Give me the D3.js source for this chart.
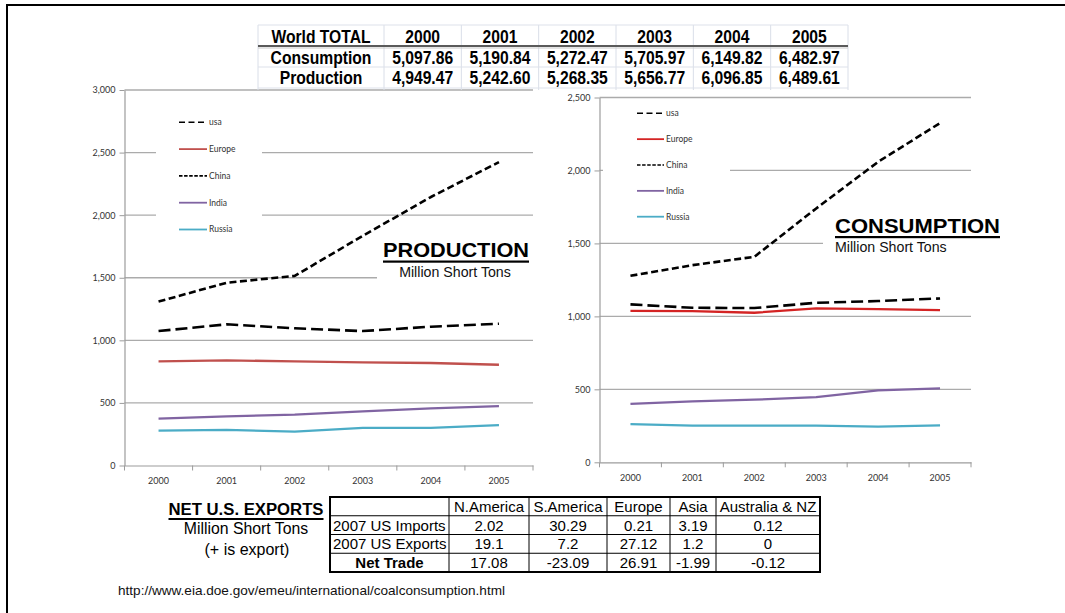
<!DOCTYPE html>
<html>
<head>
<meta charset="utf-8">
<script src="https://cdn.jsdelivr.net/npm/d3@7"></script>
<style>
  body { margin: 0; background: #fff; }
  svg { display: block; }
</style>
</head>
<body>
<svg id="chart" width="1065" height="613"></svg>
<script>
// ---- data ----
const years = ["2000", "2001", "2002", "2003", "2004", "2005"];
const seriesNames = ["usa", "Europe", "China", "India", "Russia"];

// coal production, million short tons
const productionUSA    = [1074, 1128, 1096, 1074, 1109, 1133];
const productionEurope = [832, 840, 832, 824, 819, 805];
const productionChina  = [1310, 1460, 1515, 1835, 2145, 2424];
const productionIndia  = [374, 393, 406, 433, 457, 475];
const productionRussia = [278, 284, 270, 300, 300, 323];

// coal consumption, million short tons
const consumptionUSA    = [1082, 1059, 1057, 1093, 1105, 1123];
const consumptionEurope = [1038, 1036, 1025, 1055, 1050, 1043];
const consumptionChina  = [1278, 1351, 1408, 1740, 2059, 2325];
const consumptionIndia  = [401, 418, 429, 447, 493, 507];
const consumptionRussia = [262, 251, 251, 251, 244, 253];

const productionTicks  = [0, 500, 1000, 1500, 2000, 2500, 3000];
const consumptionTicks = [0, 500, 1000, 1500, 2000, 2500];

// world totals table
const worldHeader = "World TOTAL";
const worldRowLabels = ["Consumption", "Production"];
const worldConsumption = [5097.86, 5190.84, 5272.47, 5705.97, 6149.82, 6482.97];
const worldProduction  = [4949.47, 5242.60, 5268.35, 5656.77, 6096.85, 6489.61];

// US trade table
const tradeRegions  = ["N.America", "S.America", "Europe", "Asia", "Australia & NZ"];
const tradeRowLabels = ["2007 US Imports", "2007 US Exports", "Net Trade"];
const usImports2007 = [2.02, 30.29, 0.21, 3.19, 0.12];
const usExports2007 = [19.1, 7.2, 27.12, 1.2, 0];
const usNetTrade    = [17.08, -23.09, 26.91, -1.99, -0.12];

const sourceUrl = "http://www.eia.doe.gov/emeu/international/coalconsumption.html";

// ---- drawing ----
const svg = d3.select("#chart");
const AXIS_FONT = "Lato, 'Open Sans', 'DejaVu Sans', sans-serif";
const ARIAL = "'Liberation Sans', Arial, sans-serif";

svg.append("rect").attr("width", 1065).attr("height", 613).attr("fill", "#fff");

function lineChart(cfg) {
  const g = svg.append("g");
  const x = d3.scaleBand().domain(years).range([cfg.left, cfg.right]);
  const y = d3.scaleLinear().domain([0, cfg.max]).range([cfg.bottom, cfg.top]);

  // horizontal gridlines
  g.append("g").selectAll("line")
    .data(cfg.ticks.filter(t => t > 0))
    .join("line")
    .attr("x1", cfg.left).attr("x2", cfg.right)
    .attr("y1", d => y(d)).attr("y2", d => y(d))
    .attr("stroke", "#ababab").attr("stroke-width", 1.3);

  // white panels behind legend and title
  cfg.panels.forEach(p => {
    g.append("rect").attr("x", p[0]).attr("y", p[1])
      .attr("width", p[2]).attr("height", p[3]).attr("fill", "#fff");
  });

  // y axis
  const yAxis = g.append("g")
    .attr("transform", `translate(${cfg.left},0)`)
    .call(d3.axisLeft(y).tickValues(cfg.ticks).tickSize(5).tickSizeOuter(0)
      .tickPadding(4).tickFormat(d3.format(",")));
  yAxis.select(".domain").attr("stroke", "#9c9c9c").attr("stroke-width", 1.2);
  yAxis.selectAll(".tick line").attr("stroke", "#9c9c9c");
  yAxis.selectAll(".tick text").attr("font-family", AXIS_FONT)
    .attr("font-size", 9).attr("fill", "#333");

  // x axis, ticks sit on category boundaries
  const xAxis = g.append("g")
    .attr("transform", `translate(0,${cfg.bottom})`)
    .call(d3.axisBottom(x).tickSize(0).tickSizeOuter(0).tickPadding(12));
  xAxis.select(".domain").attr("stroke", "#9c9c9c").attr("stroke-width", 1.2);
  xAxis.selectAll(".tick text").attr("font-family", AXIS_FONT)
    .attr("font-size", 9).attr("fill", "#333");
  const bounds = years.map(d => x(d)).concat([x(years[years.length - 1]) + x.bandwidth()]);
  g.append("g").selectAll("line").data(bounds).join("line")
    .attr("x1", d => d).attr("x2", d => d)
    .attr("y1", cfg.bottom).attr("y2", cfg.bottom + 5)
    .attr("stroke", "#9c9c9c");

  // series
  const line = d3.line()
    .x((d, i) => x(years[i]) + x.bandwidth() / 2)
    .y(d => y(d));
  cfg.series.forEach(s => {
    g.append("path").datum(s.values)
      .attr("d", line)
      .attr("fill", "none")
      .attr("stroke", s.color)
      .attr("stroke-width", s.width)
      .attr("stroke-dasharray", s.dash || null)
      .attr("stroke-linejoin", "round");
  });

  // legend
  cfg.series.forEach((s, i) => {
    const ly = cfg.legend.y + i * cfg.legend.step;
    g.append("line")
      .attr("x1", cfg.legend.x).attr("x2", cfg.legend.x + cfg.legend.len)
      .attr("y1", ly).attr("y2", ly)
      .attr("stroke", s.legendColor || s.color)
      .attr("stroke-width", s.dash ? 1.6 : 1.8)
      .attr("stroke-dasharray", s.legendDash || null);
    g.append("text")
      .attr("x", cfg.legend.x + cfg.legend.len + 2).attr("y", ly)
      .attr("dy", "0.35em")
      .attr("font-family", AXIS_FONT).attr("font-size", 8.5).attr("fill", "#333")
      .text(s.name);
  });

  // title
  const t = cfg.title;
  g.append("text").attr("x", t.x).attr("y", t.y)
    .attr("font-family", ARIAL).attr("font-weight", "bold").attr("font-size", t.size)
    .attr("textLength", t.len).attr("lengthAdjust", "spacingAndGlyphs")
    .attr("fill", "#000").text(t.text);
  g.append("rect").attr("x", t.x).attr("y", t.y + 3.5)
    .attr("width", t.len).attr("height", 2.2).attr("fill", "#000");
  g.append("text").attr("x", t.subX).attr("y", t.y + 19.5)
    .attr("text-anchor", t.subAnchor)
    .attr("font-family", ARIAL).attr("font-size", 14.2).attr("fill", "#111")
    .text("Million Short Tons");
}

function makeSeries(values, europeColor) {
  return [
    { name: seriesNames[0], values: values[0], color: "#000", width: 2.6, dash: "12,5", legendDash: "6,3.5" },
    { name: seriesNames[1], values: values[1], color: europeColor, width: 2.3 },
    { name: seriesNames[2], values: values[2], color: "#000", width: 2.6, dash: "7,3.5", legendDash: "3.5,1.6" },
    { name: seriesNames[3], values: values[3], color: "#8064a2", width: 2.2 },
    { name: seriesNames[4], values: values[4], color: "#4bacc6", width: 2.2 }
  ];
}

lineChart({
  left: 124.5, right: 533, top: 90, bottom: 465.5, max: 3000,
  ticks: productionTicks,
  panels: [[156, 100, 106, 140], [377, 236, 160, 46]],
  series: makeSeries([productionUSA, productionEurope, productionChina, productionIndia, productionRussia], "#c0504d"),
  legend: { x: 179, y: 122.3, step: 26.8, len: 28 },
  title: { text: "PRODUCTION", x: 383, y: 257, size: 21, len: 146, subX: 455, subAnchor: "middle" }
});

lineChart({
  left: 599.5, right: 971, top: 97.5, bottom: 462.3, max: 2500,
  ticks: consumptionTicks,
  panels: [[603, 102, 127, 128], [823, 210, 182, 48]],
  series: makeSeries([consumptionUSA, consumptionEurope, consumptionChina, consumptionIndia, consumptionRussia], "#d42424"),
  legend: { x: 637, y: 113.3, step: 25.85, len: 27 },
  title: { text: "CONSUMPTION", x: 835, y: 232.5, size: 21, len: 165, subX: 835, subAnchor: "start" }
});

// ---- world totals table ----
(function () {
  const tg = svg.append("g");
  const colX = [258, 384];
  for (let i = 1; i <= years.length; i++) colX.push(384 + i * (848 - 384) / years.length);
  const rowY = [25, 46.5, 67, 88];
  tg.append("rect").attr("x", 258).attr("y", 25).attr("width", 590).attr("height", 64).attr("fill", "#fff");
  // faint grid
  tg.selectAll(".v").data(colX).join("line")
    .attr("x1", d => d).attr("x2", d => d).attr("y1", 25).attr("y2", 90)
    .attr("stroke", "#d9dee8").attr("stroke-width", 1);
  tg.selectAll(".h").data([25, 67, 88]).join("line")
    .attr("x1", 258).attr("x2", 848).attr("y1", d => d).attr("y2", d => d)
    .attr("stroke", "#dde1ea").attr("stroke-width", 1);
  tg.append("line").attr("x1", 258).attr("x2", 848).attr("y1", 46).attr("y2", 46)
    .attr("stroke", "#5a5a5a").attr("stroke-width", 2);
  tg.append("line").attr("x1", 258).attr("x2", 848).attr("y1", 48).attr("y2", 48)
    .attr("stroke", "#c9c9c9").attr("stroke-width", 1);

  const cell = (cx, cy, txt) => tg.append("text")
    .attr("transform", `translate(${cx},${cy}) scale(0.87,1)`)
    .attr("text-anchor", "middle").attr("dy", "0.36em")
    .attr("font-family", ARIAL).attr("font-weight", "bold").attr("font-size", 18)
    .attr("fill", "#000").text(txt);
  const mid = i => (colX[i] + colX[i + 1]) / 2;
  const fmt = d3.format(",.2f");
  cell(mid(0), 36.5, worldHeader);
  years.forEach((yr, i) => cell(mid(i + 1), 36.5, yr));
  cell(mid(0), 57.5, worldRowLabels[0]);
  worldConsumption.forEach((v, i) => cell(mid(i + 1), 57.5, fmt(v)));
  cell(mid(0), 77.5, worldRowLabels[1]);
  worldProduction.forEach((v, i) => cell(mid(i + 1), 77.5, fmt(v)));
})();

// ---- US net exports table ----
(function () {
  const bg = svg.append("g");
  const colX = [330, 449, 529, 607, 670, 716, 820];
  const rowY = [497, 515.75, 534.5, 553.25, 572];
  bg.selectAll(".v").data(colX.slice(1, -1)).join("line")
    .attr("x1", d => d).attr("x2", d => d).attr("y1", rowY[0]).attr("y2", rowY[4])
    .attr("stroke", "#000").attr("stroke-width", 1);
  bg.selectAll(".h").data(rowY.slice(1, -1)).join("line")
    .attr("x1", colX[0]).attr("x2", colX[6]).attr("y1", d => d).attr("y2", d => d)
    .attr("stroke", "#000").attr("stroke-width", 1);
  bg.append("rect").attr("x", colX[0]).attr("y", rowY[0])
    .attr("width", colX[6] - colX[0]).attr("height", rowY[4] - rowY[0])
    .attr("fill", "none").attr("stroke", "#000").attr("stroke-width", 2);

  const mid = i => (colX[i] + colX[i + 1]) / 2;
  const rowMid = r => (rowY[r] + rowY[r + 1]) / 2;
  const txt = (x, y, s, anchor, bold) => bg.append("text")
    .attr("x", x).attr("y", y).attr("dy", "0.36em")
    .attr("text-anchor", anchor).attr("font-family", ARIAL)
    .attr("font-size", 15).attr("font-weight", bold ? "bold" : "normal")
    .attr("fill", "#000").text(s);
  tradeRegions.forEach((r, i) => txt(mid(i + 1), rowMid(0), r, "middle"));
  txt(colX[0] + 3, rowMid(1), tradeRowLabels[0], "start");
  txt(colX[0] + 3, rowMid(2), tradeRowLabels[1], "start");
  txt(mid(0), rowMid(3), tradeRowLabels[2], "middle", true);
  usImports2007.forEach((v, i) => txt(mid(i + 1), rowMid(1), String(v), "middle"));
  usExports2007.forEach((v, i) => txt(mid(i + 1), rowMid(2), String(v), "middle"));
  usNetTrade.forEach((v, i) => txt(mid(i + 1), rowMid(3), String(v), "middle"));

  // caption at left of the table
  bg.append("text").attr("x", 246).attr("y", 515).attr("text-anchor", "middle")
    .attr("font-family", ARIAL).attr("font-weight", "bold").attr("font-size", 16)
    .attr("textLength", 155).attr("lengthAdjust", "spacingAndGlyphs")
    .attr("fill", "#000").text("NET U.S. EXPORTS");
  bg.append("rect").attr("x", 168.5).attr("y", 518).attr("width", 155).attr("height", 2).attr("fill", "#000");
  bg.append("text").attr("x", 246).attr("y", 534).attr("text-anchor", "middle")
    .attr("font-family", ARIAL).attr("font-size", 15.8).attr("fill", "#000").text("Million Short Tons");
  bg.append("text").attr("x", 247).attr("y", 555).attr("text-anchor", "middle")
    .attr("font-family", ARIAL).attr("font-size", 16).attr("fill", "#000").text("(+ is export)");

  bg.append("text").attr("x", 118).attr("y", 595)
    .attr("font-family", ARIAL).attr("font-size", 13)
    .attr("textLength", 387).attr("lengthAdjust", "spacingAndGlyphs")
    .attr("fill", "#111").text(sourceUrl);
})();

// slide frame
svg.append("rect").attr("x", 7).attr("y", 5).attr("width", 1080).attr("height", 640)
  .attr("fill", "none").attr("stroke", "#000").attr("stroke-width", 2);
</script>
</body>
</html>
